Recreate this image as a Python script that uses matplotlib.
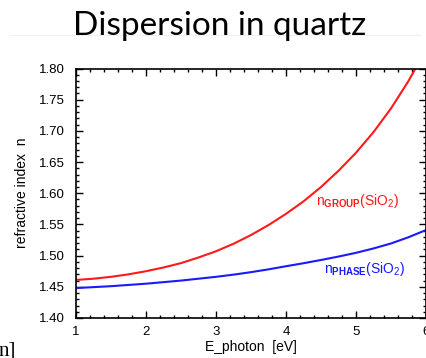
import matplotlib
matplotlib.use("Agg")
import matplotlib.pyplot as plt
from matplotlib.ticker import MultipleLocator, FormatStrFormatter
from matplotlib.lines import Line2D

# Photon energy grid [eV] and refractive indices of SiO2
energy_ev = [1.0, 1.25, 1.5, 1.75, 2.0, 2.25, 2.5, 2.75, 3.0, 3.25, 3.5,
             3.75, 4.0, 4.25, 4.5, 4.75, 5.0, 5.25, 5.5, 5.75, 6.0]
n_group = [1.461, 1.463, 1.466, 1.470, 1.475, 1.481, 1.488, 1.497, 1.507, 1.519, 1.533,
           1.549, 1.567, 1.587, 1.610, 1.636, 1.665, 1.698, 1.736, 1.780, 1.830]
n_phase = [1.448, 1.4495, 1.451, 1.453, 1.455, 1.4575, 1.460, 1.463, 1.466, 1.4695, 1.4735,
           1.478, 1.483, 1.4878, 1.493, 1.4985, 1.5045, 1.5115, 1.5195, 1.5295, 1.541]

x_ticks = [1, 2, 3, 4, 5, 6]
title_text = "Dispersion in quartz"
x_label = "E_photon  [eV]"
y_label = "refractive index  n"
group_label = r"n$_{\mathbf{GROUP}}$(SiO$_{2}$)"
phase_label = r"n$_{\mathbf{PHASE}}$(SiO$_{2}$)"

plt.rcParams["font.family"] = ["Liberation Sans", "DejaVu Sans"]
plt.rcParams["mathtext.fontset"] = "custom"
plt.rcParams["mathtext.rm"] = "Liberation Sans"
plt.rcParams["mathtext.it"] = "Liberation Sans"
plt.rcParams["mathtext.bf"] = "Liberation Sans:bold"

W, H = 426, 358
fig = plt.figure(figsize=(W / 100, H / 100), dpi=100)

# Slide title and faint rule beneath it
fig.text(220 / W, 1 - 26 / H, title_text, family=["Lato", "DejaVu Sans"],
         fontsize=24, ha="center", va="center", color="black")
fig.add_artist(Line2D([10 / W, 420 / W], [1 - 35 / H, 1 - 35 / H],
                      transform=fig.transFigure, color="#f0f0f0", lw=0.8, zorder=0))
# Remnant of neighbouring slide text
fig.text(-1 / W, 1 - 351 / H, "n]", family=["Liberation Serif", "DejaVu Serif"],
         fontsize=15, ha="left", va="center", color="black")

ax = fig.add_axes([76 / W, 40 / H, 350 / W, 249.5 / H])
ax.plot(energy_ev, n_group, color="#ff1a1a", lw=1.5)
ax.plot(energy_ev, n_phase, color="#1a1aff", lw=1.5)

ax.set_xlim(1, 6)
ax.set_ylim(1.40, 1.80)
ax.set_xticks(x_ticks)
ax.xaxis.set_minor_locator(MultipleLocator(0.2))
ax.yaxis.set_major_locator(MultipleLocator(0.05))
ax.yaxis.set_minor_locator(MultipleLocator(0.01))
ax.yaxis.set_major_formatter(FormatStrFormatter("%.2f"))

ax.tick_params(which="both", direction="in", top=True, right=True, width=1.0,
               labelsize=9.5, colors="black")
ax.tick_params(which="major", length=5)
ax.tick_params(which="minor", length=2.5)
ax.tick_params(axis="y", pad=8)
ax.tick_params(axis="x", pad=6)
for s in ax.spines.values():
    s.set_linewidth(1.2)

ax.set_xlabel(x_label, fontsize=10, labelpad=1)
ax.set_ylabel(y_label, fontsize=10, labelpad=7)

ax.text(4.43, 1.588, group_label, color="#ff1a1a", fontsize=10, ha="left", va="center")
ax.text(4.55, 1.479, phase_label, color="#1a1aff", fontsize=10, ha="left", va="center")

fig.savefig("out.png", dpi=100)
